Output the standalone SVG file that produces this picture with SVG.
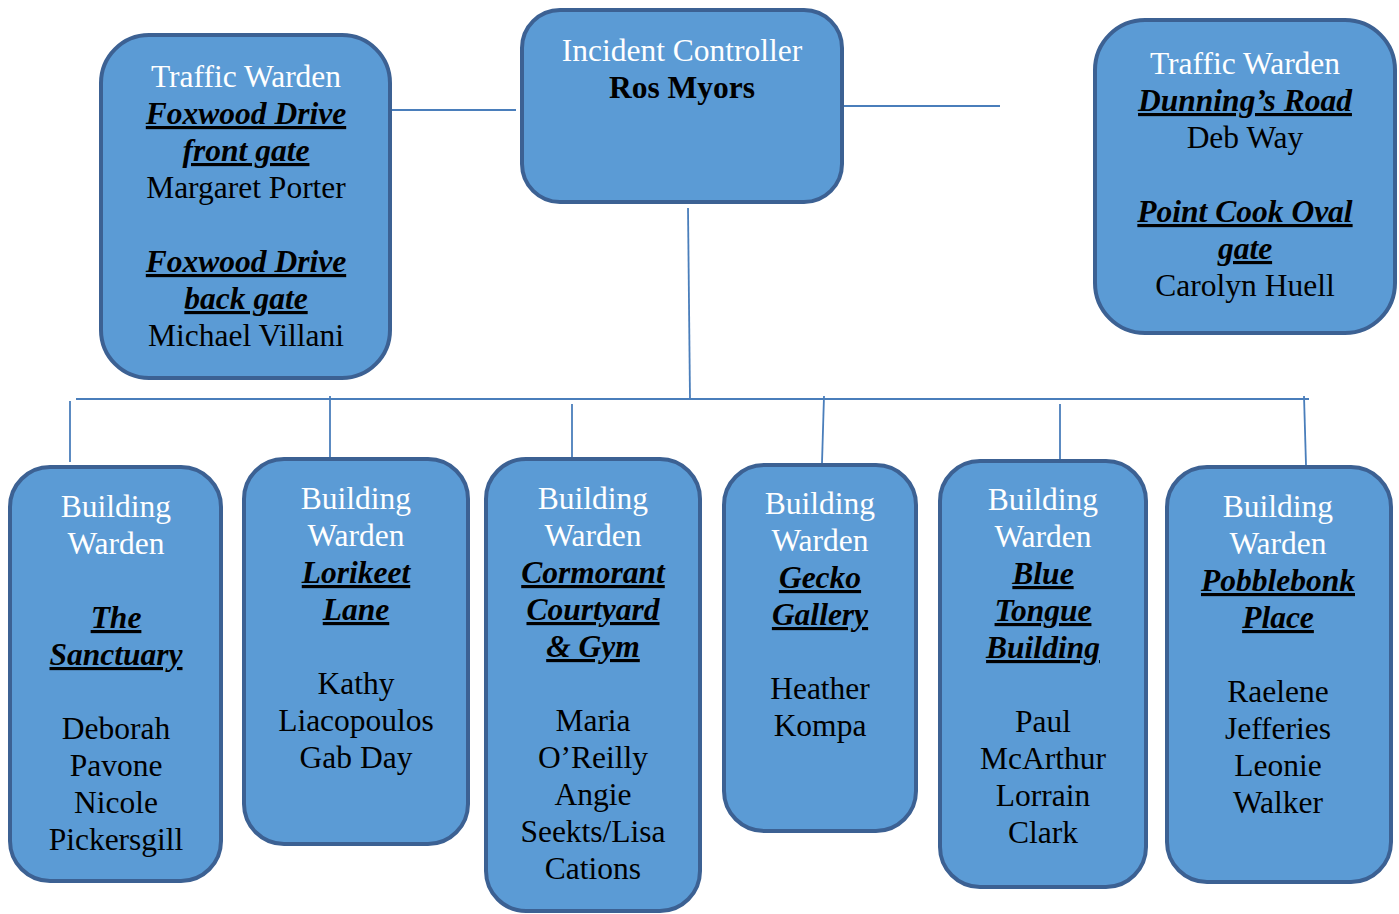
<svg xmlns="http://www.w3.org/2000/svg" width="1399" height="914" viewBox="0 0 1399 914">
<style>
.box{fill:#5B9BD5;stroke:#3C6193;stroke-width:4}
.con line{stroke:#4A7EBB;stroke-width:1.8;fill:none}
text{font-family:"Liberation Serif","Times New Roman",serif;font-size:31.5px;text-anchor:middle;fill:#000}
.w{fill:#fff}
.b{font-weight:bold}
.u{font-weight:bold;font-style:italic;text-decoration:underline;text-decoration-thickness:3px}
</style>
<rect width="1399" height="914" fill="#fff"/>
<g class="con" id="connectors">
<line x1="385" y1="110" x2="516" y2="110"/>
<line x1="843" y1="106" x2="1000" y2="106"/>
<line x1="688" y1="208" x2="690" y2="399"/>
<line x1="76" y1="399" x2="1309" y2="399"/>
<line x1="70" y1="401" x2="70" y2="462"/>
<line x1="330" y1="396" x2="330" y2="458"/>
<line x1="572" y1="404" x2="572" y2="458"/>
<line x1="824" y1="396" x2="822" y2="463"/>
<line x1="1060" y1="404" x2="1060" y2="460"/>
<line x1="1304" y1="396" x2="1306" y2="465"/>
</g>
<g id="traffic-foxwood">
<rect class="box" x="101" y="35" width="289" height="343" rx="48"/>
<text x="246" y="87" class="w">Traffic Warden</text>
<text x="246" y="124" class="u">Foxwood Drive</text>
<text x="246" y="161" class="u">front gate</text>
<text x="246" y="198">Margaret Porter</text>
<text x="246" y="272" class="u">Foxwood Drive</text>
<text x="246" y="309" class="u">back gate</text>
<text x="246" y="346">Michael Villani</text>
</g>
<g id="incident-controller">
<rect class="box" x="522" y="10" width="320" height="192" rx="38"/>
<text x="682" y="61" class="w">Incident Controller</text>
<text x="682" y="98" class="b">Ros Myors</text>
</g>
<g id="traffic-dunning">
<rect class="box" x="1095" y="20" width="300" height="313" rx="50"/>
<text x="1245" y="74" class="w">Traffic Warden</text>
<text x="1245" y="111" class="u">Dunning’s Road</text>
<text x="1245" y="148">Deb Way</text>
<text x="1245" y="222" class="u">Point Cook Oval</text>
<text x="1245" y="259" class="u">gate</text>
<text x="1245" y="296">Carolyn Huell</text>
</g>
<g id="bw-sanctuary">
<rect class="box" x="10" y="467" width="211" height="414" rx="40"/>
<text x="116" y="517" class="w">Building</text>
<text x="116" y="554" class="w">Warden</text>
<text x="116" y="628" class="u">The</text>
<text x="116" y="665" class="u">Sanctuary</text>
<text x="116" y="739">Deborah</text>
<text x="116" y="776">Pavone</text>
<text x="116" y="813">Nicole</text>
<text x="116" y="850">Pickersgill</text>
</g>
<g id="bw-lorikeet">
<rect class="box" x="244" y="459" width="224" height="385" rx="40"/>
<text x="356" y="509" class="w">Building</text>
<text x="356" y="546" class="w">Warden</text>
<text x="356" y="583" class="u">Lorikeet</text>
<text x="356" y="620" class="u">Lane</text>
<text x="356" y="694">Kathy</text>
<text x="356" y="731">Liacopoulos</text>
<text x="356" y="768">Gab Day</text>
</g>
<g id="bw-cormorant">
<rect class="box" x="486" y="459" width="214" height="452" rx="40"/>
<text x="593" y="509" class="w">Building</text>
<text x="593" y="546" class="w">Warden</text>
<text x="593" y="583" class="u">Cormorant</text>
<text x="593" y="620" class="u">Courtyard</text>
<text x="593" y="657" class="u">&amp; Gym</text>
<text x="593" y="731">Maria</text>
<text x="593" y="768">O’Reilly</text>
<text x="593" y="805">Angie</text>
<text x="593" y="842">Seekts/Lisa</text>
<text x="593" y="879">Cations</text>
</g>
<g id="bw-gecko">
<rect class="box" x="724" y="465" width="192" height="366" rx="40"/>
<text x="820" y="514" class="w">Building</text>
<text x="820" y="551" class="w">Warden</text>
<text x="820" y="588" class="u">Gecko</text>
<text x="820" y="625" class="u">Gallery</text>
<text x="820" y="699">Heather</text>
<text x="820" y="736">Kompa</text>
</g>
<g id="bw-bluetongue">
<rect class="box" x="940" y="461" width="206" height="426" rx="40"/>
<text x="1043" y="510" class="w">Building</text>
<text x="1043" y="547" class="w">Warden</text>
<text x="1043" y="584" class="u">Blue</text>
<text x="1043" y="621" class="u">Tongue</text>
<text x="1043" y="658" class="u">Building</text>
<text x="1043" y="732">Paul</text>
<text x="1043" y="769">McArthur</text>
<text x="1043" y="806">Lorrain</text>
<text x="1043" y="843">Clark</text>
</g>
<g id="bw-pobblebonk">
<rect class="box" x="1167" y="467" width="224" height="415" rx="40"/>
<text x="1278" y="517" class="w">Building</text>
<text x="1278" y="554" class="w">Warden</text>
<text x="1278" y="591" class="u">Pobblebonk</text>
<text x="1278" y="628" class="u">Place</text>
<text x="1278" y="702">Raelene</text>
<text x="1278" y="739">Jefferies</text>
<text x="1278" y="776">Leonie</text>
<text x="1278" y="813">Walker</text>
</g>
</svg>
